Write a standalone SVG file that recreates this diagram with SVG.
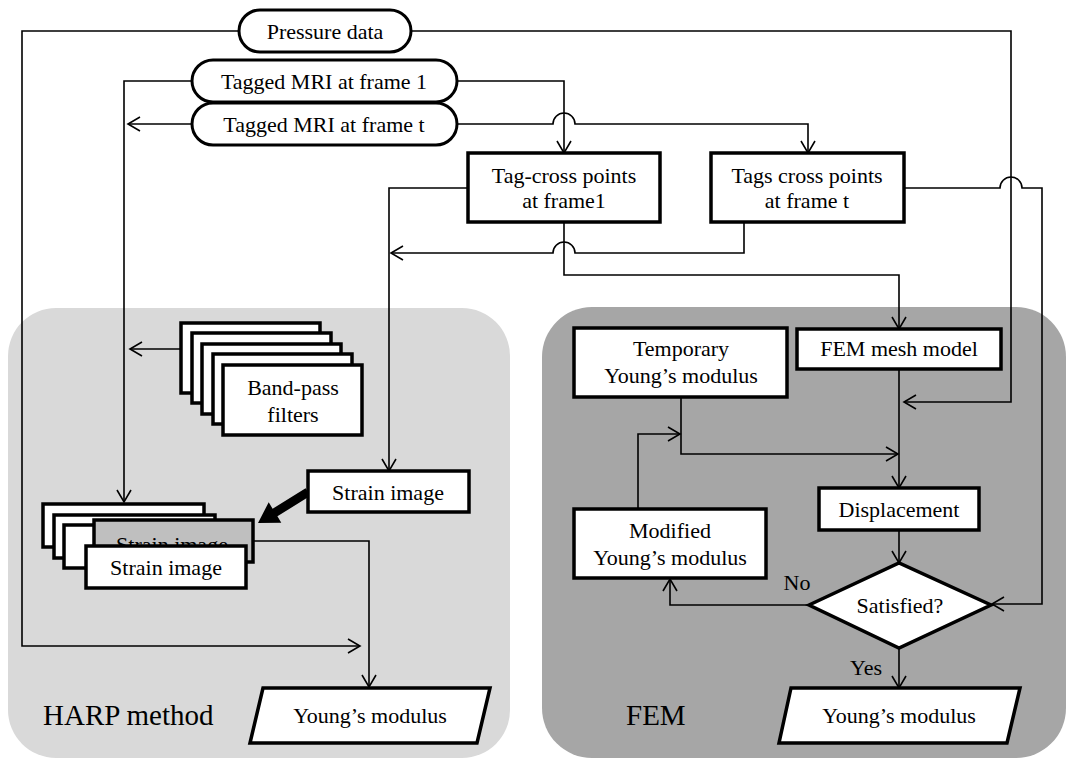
<svg xmlns="http://www.w3.org/2000/svg" width="1068" height="761" viewBox="0 0 1068 761">
<style>
.bg{stroke:none}
.box{fill:#fff;stroke:#000;stroke-width:3.5}
.pill{fill:#fff;stroke:#000;stroke-width:3}
.t{font-family:"Liberation Serif","Times New Roman",serif;font-size:22px;fill:#000;text-anchor:middle}
.big{font-family:"Liberation Serif","Times New Roman",serif;font-size:29px;fill:#000}
.c{fill:none;stroke:#000;stroke-width:1.6}
</style>
<defs>
<marker id="arr" markerUnits="userSpaceOnUse" viewBox="-14 -10 16 20" markerWidth="16" markerHeight="20" refX="0" refY="0" orient="auto">
<path d="M-12,-7 L0,0 L-12,7" fill="none" stroke="#000" stroke-width="1.6"/>
</marker>
<clipPath id="grayclip"><rect x="96" y="522" width="155" height="23"/></clipPath>
</defs>
<rect width="1068" height="761" fill="#fff"/>
<g id="harp-region">
<rect class="bg" x="8" y="308" width="502" height="450" rx="48" fill="#d9d9d9"/>
<text class="big" x="43" y="725">HARP method</text>
</g>
<g id="fem-region">
<rect class="bg" x="542" y="307" width="524" height="451" rx="50" fill="#a6a6a6"/>
<text class="big" x="626" y="725">FEM</text>
</g>
<g id="connectors">
<path class="c" d="M239,31 H22 V646 H360" marker-end="url(#arr)"/>
<path class="c" d="M411,31 H1011 V402 H904" marker-end="url(#arr)"/>
<path class="c" d="M192,81 H124 V502" marker-end="url(#arr)"/>
<path class="c" d="M192,124 H128" marker-end="url(#arr)"/>
<path class="c" d="M457,81 H564 V153" marker-end="url(#arr)"/>
<path class="c" d="M457,124 H553 A11,11 0 0 1 575,124 H808 V153" marker-end="url(#arr)"/>
<path class="c" d="M181,349 H130" marker-end="url(#arr)"/>
<path class="c" d="M468,188 H389 V471" marker-end="url(#arr)"/>
<path class="c" d="M744,222 V253 H575 A11,11 0 0 0 553,253 H391" marker-end="url(#arr)"/>
<path class="c" d="M564,222 V275 H899 V329" marker-end="url(#arr)"/>
<path class="c" d="M904,188 H1000 A11,11 0 0 1 1022,188 H1042 V604 H992" marker-end="url(#arr)"/>
<path class="c" d="M899,369 V488" marker-end="url(#arr)"/>
<path class="c" d="M681,397 V454 H898" marker-end="url(#arr)"/>
<path class="c" d="M638,509 V434 H680" marker-end="url(#arr)"/>
<path class="c" d="M899,530 V563" marker-end="url(#arr)"/>
<path class="c" d="M809,605 H670 V579" marker-end="url(#arr)"/>
<path class="c" d="M899,648 V688" marker-end="url(#arr)"/>
<path class="c" d="M253,541 H369 V687" marker-end="url(#arr)"/>
<polygon points="310.4,495.8 305.6,488.2 272.6,508.7 268.7,502.3 258,523 281.3,522.7 277.4,516.3" fill="#000"/>
</g>
<g id="pressure-data">
<rect class="pill" x="239" y="10" width="172" height="42" rx="21"/>
<text class="t" x="325" y="39">Pressure data</text>
</g>
<g id="tagged-mri-1">
<rect class="pill" x="192" y="60" width="265" height="42" rx="21"/>
<text class="t" x="324" y="89">Tagged MRI at frame 1</text>
</g>
<g id="tagged-mri-t">
<rect class="pill" x="192" y="103" width="265" height="42" rx="21"/>
<text class="t" x="324" y="132">Tagged MRI at frame t</text>
</g>
<g id="tag-cross-1">
<rect class="box" x="468" y="153" width="192" height="69"/>
<text class="t" x="564" y="183">Tag-cross points</text>
<text class="t" x="564" y="208">at frame1</text>
</g>
<g id="tag-cross-t">
<rect class="box" x="711" y="153" width="193" height="69"/>
<text class="t" x="807" y="183">Tags cross points</text>
<text class="t" x="807" y="208">at frame t</text>
</g>
<g id="band-pass">
<rect class="box" x="181" y="323" width="139" height="70"/>
<rect class="box" x="192" y="333" width="139" height="70"/>
<rect class="box" x="202" y="344" width="139" height="70"/>
<rect class="box" x="213" y="354" width="139" height="70"/>
<rect class="box" x="223" y="365" width="139" height="70"/>
<text class="t" x="293" y="395">Band-pass</text>
<text class="t" x="293" y="422">filters</text>
</g>
<g id="strain-image-single">
<rect class="box" x="308" y="471" width="161" height="41"/>
<text class="t" x="388" y="500">Strain image</text>
</g>
<g id="strain-stack">
<rect class="box" x="43" y="504" width="161" height="43"/>
<rect class="box" x="54" y="515" width="161" height="43"/>
<rect class="box" x="64" y="525" width="161" height="43"/>
<rect class="box" x="94" y="520" width="159" height="42" style="fill:#bfbfbf"/>
<text class="t" x="172" y="552" clip-path="url(#grayclip)">Strain image</text>
<rect class="box" x="86" y="546" width="160" height="42"/>
<text class="t" x="166" y="575">Strain image</text>
</g>
<g id="harp-young">
<polygon class="box" points="263,688 490,688 477,743 250,743"/>
<text class="t" x="370" y="723">Young’s modulus</text>
</g>
<g id="temporary-young">
<rect class="box" x="574" y="328" width="213" height="69"/>
<text class="t" x="681" y="356">Temporary</text>
<text class="t" x="681" y="383">Young’s modulus</text>
</g>
<g id="fem-mesh">
<rect class="box" x="797" y="329" width="204" height="40"/>
<text class="t" x="899" y="356">FEM mesh model</text>
</g>
<g id="displacement">
<rect class="box" x="819" y="488" width="160" height="42"/>
<text class="t" x="899" y="517">Displacement</text>
</g>
<g id="modified-young">
<rect class="box" x="574" y="509" width="192" height="69"/>
<text class="t" x="670" y="538">Modified</text>
<text class="t" x="670" y="565">Young’s modulus</text>
</g>
<g id="satisfied">
<polygon class="box" points="809,605 899,563 991,605 899,648"/>
<text class="t" x="900" y="613">Satisfied?</text>
</g>
<g id="labels">
<text class="t" x="797" y="590">No</text>
<text class="t" x="866" y="675">Yes</text>
</g>
<g id="fem-young">
<polygon class="box" points="791,688 1020,688 1007,743 779,743"/>
<text class="t" x="899" y="723">Young’s modulus</text>
</g>
</svg>
